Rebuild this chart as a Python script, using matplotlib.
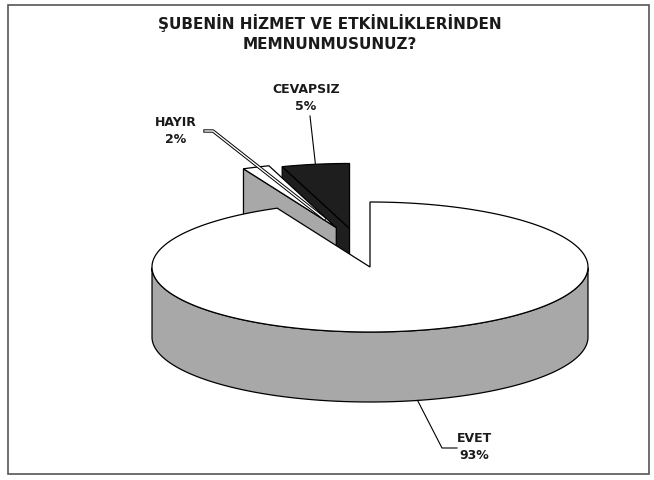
import numpy as np
import matplotlib
matplotlib.use("Agg")
import matplotlib.pyplot as plt
from matplotlib.patches import Polygon, Rectangle

# ---- data ----
categories = ["EVET", "HAYIR", "CEVAPSIZ"]
values = [93, 2, 5]
pct_labels = ["93%", "2%", "5%"]
title = "ŞUBENİN HİZMET VE ETKİNLİKLERİNDEN\nMEMNUNMUSUNUZ?"

# ---- style / layout ----
explode = [0.0, 0.42, 0.6]
lift = [0, 14, 0]
top_colors = ["white", "white", "#1e1e1e"]
side_colors = ["#a8a8a8", "#a8a8a8", "#1e1e1e"]
cx, cy = 370, 268          # pie centre (pixel-like axis units)
rx, ry = 218, 65           # ellipse radii of top face
depth = 70                 # thickness
start_angle = 90
draw_order = [2, 1, 0]
label_pos = [(474, 447), (176, 131), (306, 98)]
anchor_frac = [1.0, 0.15, 1.0]

fig = plt.figure(figsize=(6.54, 4.81), dpi=100)
ax = fig.add_axes([0, 0, 1, 1])
ax.set_xlim(0, 654)
ax.set_ylim(481, 0)
ax.axis("off")

FONT = ["DejaVu Sans"]

total = float(sum(values))
spans = []
a_end = start_angle
for v in values:
    sweep = 360.0 * v / total
    a0 = a_end - sweep
    spans.append((a0, a_end))
    a_end = a0
spans = [((a0 % 360), (a0 % 360) + (a1 - a0)) for a0, a1 in spans]


def offset(i):
    a0, a1 = spans[i]
    m = np.radians((a0 + a1) / 2)
    return explode[i] * rx * np.cos(m), -explode[i] * ry * np.sin(m) - lift[i]


def pt(i, ang, r=1.0, z=0.0):
    ox, oy = offset(i)
    t = np.radians(ang)
    return (cx + ox + rx * r * np.cos(t), cy + oy - ry * r * np.sin(t) + z)


lw = 0.9
for i in draw_order:
    a0, a1 = spans[i]
    c = pt(i, 0, r=0.0)
    for ang, sgn in ((a1, -1), (a0, 1)):
        if sgn * np.cos(np.radians(ang)) > 1e-6:
            p = pt(i, ang)
            poly = [c, p, (p[0], p[1] + depth), (c[0], c[1] + depth)]
            ax.add_patch(Polygon(poly, closed=True, fc=side_colors[i], ec="black", lw=lw, zorder=2))
    angs = np.linspace(a0, a1, 400)
    vis = np.sin(np.radians(angs)) < 0
    if vis.any():
        va = angs[vis]
        top = [pt(i, a) for a in va]
        bot = [(x, y + depth) for x, y in top][::-1]
        ax.add_patch(Polygon(top + bot, closed=True, fc=side_colors[i], ec="black", lw=lw, zorder=2))
    arc = [pt(i, a) for a in angs]
    ax.add_patch(Polygon([c] + arc, closed=True, fc=top_colors[i], ec="black", lw=lw, zorder=2))

for i in range(len(values)):
    a0, a1 = spans[i]
    mid = (a0 + a1) / 2
    lx, ly = label_pos[i]
    ax.text(lx, ly, f"{categories[i]}\n{pct_labels[i]}", ha="center", va="center",
            fontsize=9, fontweight="bold", family=FONT, color="#1a1a1a",
            linespacing=1.45, zorder=5)
    if i == 0:
        p = pt(i, mid, z=depth)
        ax.plot([p[0], lx - 32, lx - 17], [p[1], ly + 2, ly + 2], color="black", lw=0.8, zorder=4)
    elif i == 1:
        p = pt(i, mid, r=anchor_frac[i])
        xs = [lx + 29, lx + 37, p[0]]
        ys = [ly + 1, ly + 1, p[1]]
        ax.plot(xs, ys, color="black", lw=2.4, zorder=4)
        ax.plot(xs, ys, color="white", lw=1.0, zorder=4)
    else:
        p = pt(i, mid)
        ax.plot([lx + 4, p[0]], [ly + 19, p[1]], color="black", lw=0.8, zorder=4)

ax.text(330, 33, title, ha="center", va="center", fontsize=11, fontweight="bold",
        family=FONT, color="#1a1a1a", linespacing=1.45)

ax.add_patch(Rectangle((8, 6), 641, 469, fill=False, ec="#555555", lw=1.2, zorder=6))

fig.savefig("out.png", dpi=100)
